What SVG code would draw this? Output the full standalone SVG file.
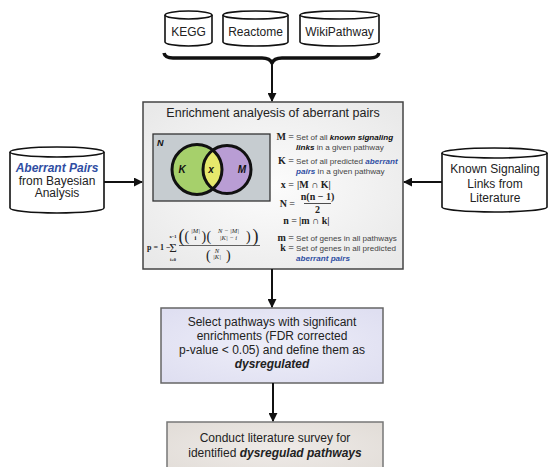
<svg xmlns="http://www.w3.org/2000/svg" width="548" height="467" viewBox="0 0 548 467">
<style>
.cyl{fill:#fff;stroke:#111;stroke-width:1.6}
.lbl{font-family:"Liberation Sans",Arial,sans-serif;font-size:12px;fill:#222;text-anchor:middle}
.bi{font-weight:bold;font-style:italic}
.blue{fill:#2f4ea3}
.sm{font-family:"Liberation Sans",Arial,sans-serif;font-size:8.1px;fill:#444}
.sm .k{font-weight:bold;font-style:italic;fill:#111}
.sm .b{font-weight:bold;font-style:italic;fill:#2f4ea3}
.m{font-family:"Liberation Serif","Times New Roman",serif;font-weight:bold;font-size:10px;fill:#222}
.m .eq{font-weight:normal}
.mf{font-family:"Liberation Serif","Times New Roman",serif;fill:#222}
.conn line{stroke:#111;stroke-width:2;marker-end:url(#ah)}
</style>
<defs>
<marker id="ah" viewBox="0 0 10 10" refX="9" refY="5" markerUnits="userSpaceOnUse" markerWidth="9" markerHeight="9" orient="auto">
<path d="M0,0 L10,5 L0,10 z" fill="#111"/>
</marker>
<radialGradient id="gMain" cx="50%" cy="50%" r="65%">
<stop offset="0" stop-color="#fcfcfc"/><stop offset="1" stop-color="#e9e9e9"/>
</radialGradient>
<radialGradient id="gSel" cx="50%" cy="50%" r="65%">
<stop offset="0" stop-color="#eeeef9"/><stop offset="1" stop-color="#dfdff1"/>
</radialGradient>
<radialGradient id="gBot" cx="50%" cy="50%" r="65%">
<stop offset="0" stop-color="#efebe8"/><stop offset="1" stop-color="#e2ddd8"/>
</radialGradient>
<clipPath id="clipK"><circle cx="197" cy="169.5" r="25"/></clipPath>
</defs>

<g id="kegg">
<path class="cyl" d="M165,15 A23.5,4 0 0 1 212,15 L212,42 A23.5,4 0 0 1 165,42 Z"/>
<path class="cyl" d="M165,15 A23.5,4 0 0 0 212,15" fill="none"/>
<text class="lbl" x="188.5" y="36">KEGG</text>
</g>
<g id="reactome">
<path class="cyl" d="M223,15 A32.5,4 0 0 1 288,15 L288,42 A32.5,4 0 0 1 223,42 Z"/>
<path class="cyl" d="M223,15 A32.5,4 0 0 0 288,15" fill="none"/>
<text class="lbl" x="255.5" y="36">Reactome</text>
</g>
<g id="wikipathway">
<path class="cyl" d="M300,15 A39.5,4 0 0 1 379,15 L379,42 A39.5,4 0 0 1 300,42 Z"/>
<path class="cyl" d="M300,15 A39.5,4 0 0 0 379,15" fill="none"/>
<text class="lbl" x="339.5" y="36">WikiPathway</text>
</g>

<g id="brace">
<path d="M164,53 Q165,58 173,58 L262,58 Q270,58 272,63 Q274,58 282,58 L370,58 Q378,58 379,53" fill="none" stroke="#111" stroke-width="3.5" stroke-linejoin="round"/>
</g>

<g id="aberrant-pairs">
<path class="cyl" d="M10,152 A47,5 0 0 1 104,152 L104,208 A47,5 0 0 1 10,208 Z"/>
<path class="cyl" d="M10,152 A47,5 0 0 0 104,152" fill="none"/>
<text class="lbl" x="57" y="172"><tspan class="bi blue">Aberrant Pairs</tspan></text>
<text class="lbl" x="57" y="184.5">from Bayesian</text>
<text class="lbl" x="57" y="197">Analysis</text>
</g>

<g id="known-links">
<path class="cyl" d="M442,153 A52.5,5 0 0 1 547,153 L547,207 A52.5,5 0 0 1 442,207 Z"/>
<path class="cyl" d="M442,153 A52.5,5 0 0 0 547,153" fill="none"/>
<text class="lbl" x="495" y="173">Known Signaling</text>
<text class="lbl" x="495" y="187.5">Links from</text>
<text class="lbl" x="495" y="202">Literature</text>
</g>

<g id="enrichment">
<rect x="143" y="102" width="260" height="167" fill="url(#gMain)" stroke="#444" stroke-width="1.5"/>
<text class="lbl" x="273" y="117" style="font-size:12.5px">Enrichment analyesis of aberrant pairs</text>
<rect x="153" y="134" width="117" height="67" fill="#c6ccd0" stroke="#333" stroke-width="1.3"/>
<text x="157" y="146" style="font-family:'Liberation Sans',Arial,sans-serif;font-size:9px;font-weight:bold;font-style:italic;fill:#111">N</text>
<circle cx="197" cy="169.5" r="25" fill="#a6d06b"/>
<circle cx="227" cy="169.5" r="24" fill="#b99dd4"/>
<circle cx="227" cy="169.5" r="24" fill="#e6e86c" clip-path="url(#clipK)"/>
<circle cx="197" cy="169.5" r="25" fill="none" stroke="#111" stroke-width="3"/>
<circle cx="227" cy="169.5" r="24" fill="none" stroke="#111" stroke-width="3"/>
<g style="font-family:'Liberation Sans',Arial,sans-serif;font-size:10px;font-weight:bold;font-style:italic;fill:#111" text-anchor="middle">
<text x="182" y="173">K</text><text x="211" y="173">x</text><text x="242" y="173">M</text>
</g>

<text class="m" x="294" y="140" text-anchor="end">M <tspan class="eq">=</tspan></text>
<text class="sm" x="296" y="140">Set of all <tspan class="k">known signaling</tspan></text>
<text class="sm" x="296" y="149.5"><tspan class="k">links</tspan> in a given pathway</text>
<text class="m" x="294" y="164" text-anchor="end">K <tspan class="eq">=</tspan></text>
<text class="sm" x="296" y="164">Set of all predicted <tspan class="b">aberrant</tspan></text>
<text class="sm" x="296" y="173.5"><tspan class="b">pairs</tspan> in a given pathway</text>
<text class="m" x="294" y="187.5" text-anchor="end">x <tspan class="eq">=</tspan></text>
<text class="m" x="297" y="187.5">|M ∩ K|</text>
<text class="m" x="295" y="207" text-anchor="end">N <tspan class="eq">=</tspan></text>
<text class="m" x="317.5" y="200" text-anchor="middle">n(n − 1)</text>
<line x1="304" y1="203.5" x2="331" y2="203.5" stroke="#222" stroke-width="0.8"/>
<text class="m" x="317.5" y="212.5" text-anchor="middle">2</text>
<text class="m" x="297" y="223.5" text-anchor="end">n <tspan class="eq">=</tspan></text>
<text class="m" x="299" y="223.5">|m ∩ k|</text>
<text class="m" x="294" y="240.5" text-anchor="end">m <tspan class="eq">=</tspan></text>
<text class="sm" x="296" y="240.5">Set of genes in all pathways</text>
<text class="m" x="294" y="250.5" text-anchor="end">k <tspan class="eq">=</tspan></text>
<text class="sm" x="296" y="250.5">Set of genes in all predicted</text>
<text class="sm" x="296" y="260.5"><tspan class="b">aberrant pairs</tspan></text>

<g class="mf">
<text x="147" y="250" style="font-size:8px;font-weight:bold">p = 1 −</text>
<text x="173" y="252" style="font-size:13px" text-anchor="middle">Σ</text>
<text x="173" y="238" style="font-size:4.5px;font-weight:bold" text-anchor="middle">x−1</text>
<text x="173" y="260.5" style="font-size:4.5px;font-weight:bold" text-anchor="middle">i=0</text>
<text x="178.5" y="241.5" style="font-size:18px">(</text>
<text x="252.5" y="241.5" style="font-size:18px">)</text>
<text x="184.5" y="241" style="font-size:14px">(</text>
<text x="201.5" y="241" style="font-size:14px">)</text>
<text x="195.5" y="233" style="font-size:6.5px;font-style:italic" text-anchor="middle">|M|</text>
<text x="195.5" y="240" style="font-size:6.5px;font-weight:bold" text-anchor="middle">i</text>
<text x="206.5" y="241" style="font-size:14px">(</text>
<text x="246" y="241" style="font-size:14px">)</text>
<text x="228.5" y="233" style="font-size:6.5px;font-style:italic" text-anchor="middle">N − |M|</text>
<text x="228.5" y="240" style="font-size:6.5px;font-style:italic" text-anchor="middle">|K| − i</text>
<text x="206" y="259.5" style="font-size:14px">(</text>
<text x="226" y="259.5" style="font-size:14px">)</text>
<text x="217" y="252.5" style="font-size:6.5px;font-style:italic" text-anchor="middle">N</text>
<text x="217" y="259" style="font-size:6.5px;font-style:italic" text-anchor="middle">|K|</text>
</g>
<line x1="179" y1="245.5" x2="260" y2="245.5" stroke="#222" stroke-width="0.7"/>
</g>

<g id="select-pathways">
<rect x="161" y="308" width="222" height="75" fill="url(#gSel)" stroke="#666" stroke-width="1.5"/>
<text class="lbl" x="272" y="326">Select pathways with significant</text>
<text class="lbl" x="272" y="340">enrichments (FDR corrected</text>
<text class="lbl" x="272" y="354">p-value &lt; 0.05) and define them as</text>
<text class="lbl" x="272" y="367.5"><tspan class="bi">dysregulated</tspan></text>
</g>

<g id="literature-survey">
<rect x="167" y="422" width="216" height="55" fill="url(#gBot)" stroke="#777" stroke-width="1.5"/>
<text class="lbl" x="275" y="442">Conduct literature survey for</text>
<text class="lbl" x="275" y="457">identified <tspan class="bi">dysregulad pathways</tspan></text>
</g>

<g class="conn" id="connectors">
<line x1="272" y1="62" x2="272" y2="101"/>
<line x1="104" y1="182" x2="142" y2="182"/>
<line x1="442" y1="182" x2="404" y2="182"/>
<line x1="272" y1="269" x2="272" y2="307"/>
<line x1="273" y1="383" x2="273" y2="421"/>
</g>
</svg>
